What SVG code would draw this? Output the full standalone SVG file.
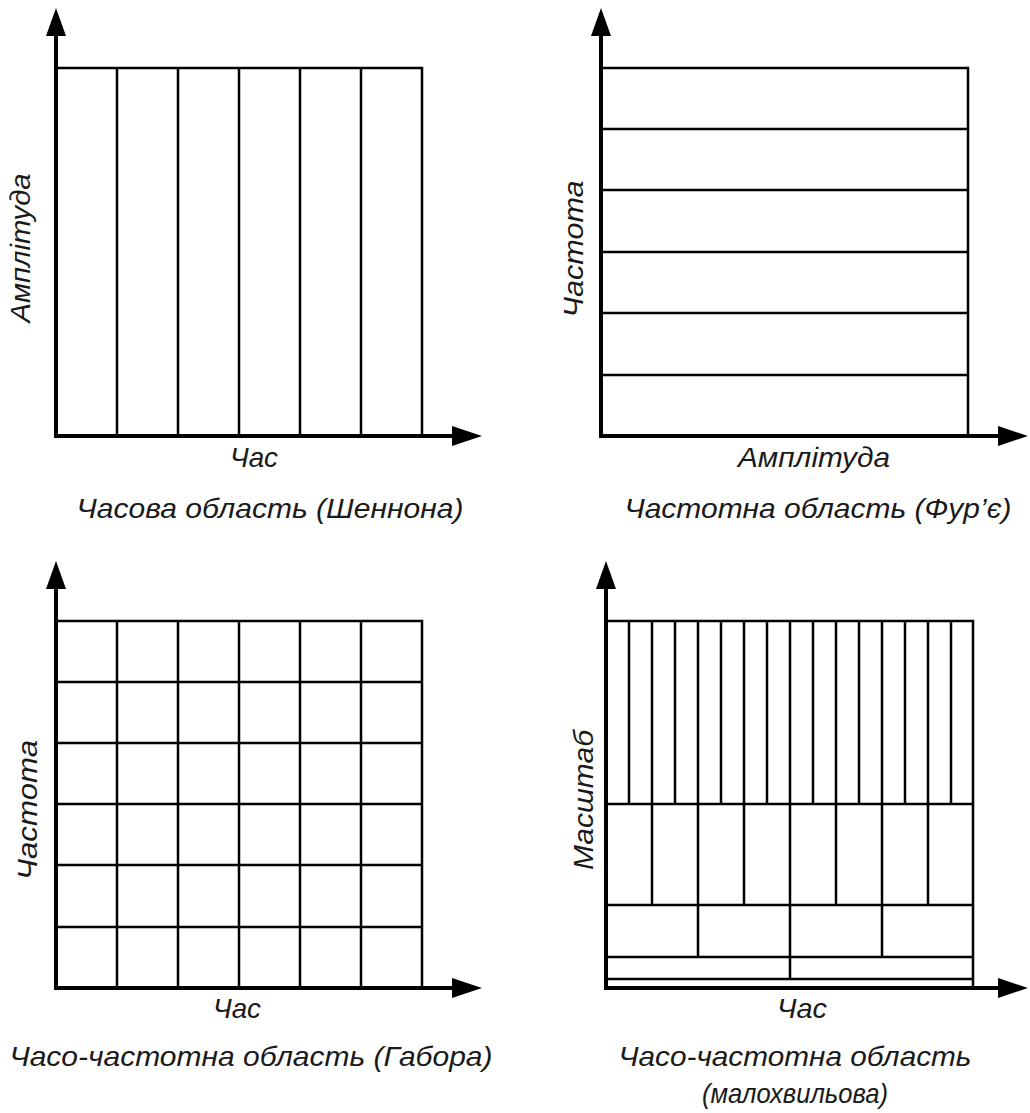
<svg xmlns="http://www.w3.org/2000/svg" width="1030" height="1113" viewBox="0 0 1030 1113">
<style>
.ax{stroke:#000;stroke-width:4;fill:none}
.g{stroke:#000;stroke-width:2.5;fill:none}
.ah{fill:#000}
text{font-family:"Liberation Sans",Arial,sans-serif;font-style:italic;font-size:28px;fill:#1a1a1a}
</style>
<g id="connectors">
<line class="ax" x1="56" y1="30" x2="56" y2="436"/>
<line class="ax" x1="54" y1="436" x2="456" y2="436"/>
<polygon class="ah" points="56,8 46,36 66,36"/>
<polygon class="ah" points="482,436 452,426 452,446"/>
<line class="ax" x1="601" y1="30" x2="601" y2="436"/>
<line class="ax" x1="599" y1="436" x2="1002" y2="436"/>
<polygon class="ah" points="601,8 591,36 611,36"/>
<polygon class="ah" points="1028,436 998,426 998,446"/>
<line class="ax" x1="56" y1="584" x2="56" y2="988"/>
<line class="ax" x1="54" y1="988" x2="456" y2="988"/>
<polygon class="ah" points="56,561 46,589 66,589"/>
<polygon class="ah" points="482,988 452,978 452,998"/>
<line class="ax" x1="606" y1="584" x2="606" y2="988"/>
<line class="ax" x1="604" y1="988" x2="1002" y2="988"/>
<polygon class="ah" points="606,561 596,589 616,589"/>
<polygon class="ah" points="1028,988 998,978 998,998"/>
</g>
<g id="panel-time">
<path class="g" d="M56,68H422V436M117,68V436M178,68V436M239,68V436M300,68V436M361,68V436"/>
<text x="254" y="467" text-anchor="middle" textLength="48" lengthAdjust="spacingAndGlyphs">Час</text>
<text transform="translate(30,248) rotate(-90)" text-anchor="middle" textLength="149" lengthAdjust="spacingAndGlyphs">Амплітуда</text>
<text x="270" y="518" text-anchor="middle" textLength="387" lengthAdjust="spacingAndGlyphs">Часова область (Шеннона)</text>
</g>
<g id="panel-frequency">
<path class="g" d="M601,68H968V436M601,129H968M601,190H968M601,252H968M601,313H968M601,375H968"/>
<text x="814" y="467" text-anchor="middle" textLength="152" lengthAdjust="spacingAndGlyphs">Амплітуда</text>
<text transform="translate(583,249) rotate(-90)" text-anchor="middle" textLength="137" lengthAdjust="spacingAndGlyphs">Частота</text>
<text x="818" y="518" text-anchor="middle" textLength="387" lengthAdjust="spacingAndGlyphs">Частотна область (Фур’є)</text>
</g>
<g id="panel-gabor">
<path class="g" d="M56,621H422V988M117,621V988M178,621V988M239,621V988M300,621V988M361,621V988M56,682H422M56,743H422M56,804H422M56,865H422M56,927H422"/>
<text x="237" y="1018" text-anchor="middle" textLength="48" lengthAdjust="spacingAndGlyphs">Час</text>
<text transform="translate(37,810) rotate(-90)" text-anchor="middle" textLength="140" lengthAdjust="spacingAndGlyphs">Частота</text>
<text x="251" y="1066" text-anchor="middle" textLength="483" lengthAdjust="spacingAndGlyphs">Часо-частотна область (Габора)</text>
</g>
<g id="panel-wavelet">
<path class="g" d="M606,621H973V988M606,804H973M606,905H973M606,957H973M606,979H973"/>
<path class="g" d="M629,621V804M652,621V804M675,621V804M698,621V804M721,621V804M744,621V804M767,621V804M790,621V804M813,621V804M836,621V804M859,621V804M882,621V804M905,621V804M928,621V804M951,621V804"/>
<path class="g" d="M652,804V905M698,804V905M744,804V905M790,804V905M836,804V905M882,804V905M928,804V905"/>
<path class="g" d="M698,905V957M790,905V957M882,905V957M790,957V979"/>
<text x="802" y="1018" text-anchor="middle" textLength="50" lengthAdjust="spacingAndGlyphs">Час</text>
<text transform="translate(593,800) rotate(-90)" text-anchor="middle" textLength="140" lengthAdjust="spacingAndGlyphs">Масштаб</text>
<text x="795" y="1066" text-anchor="middle" textLength="353" lengthAdjust="spacingAndGlyphs">Часо-частотна область</text>
<text x="795" y="1103" text-anchor="middle" textLength="186" lengthAdjust="spacingAndGlyphs">(малохвильова)</text>
</g>
</svg>
